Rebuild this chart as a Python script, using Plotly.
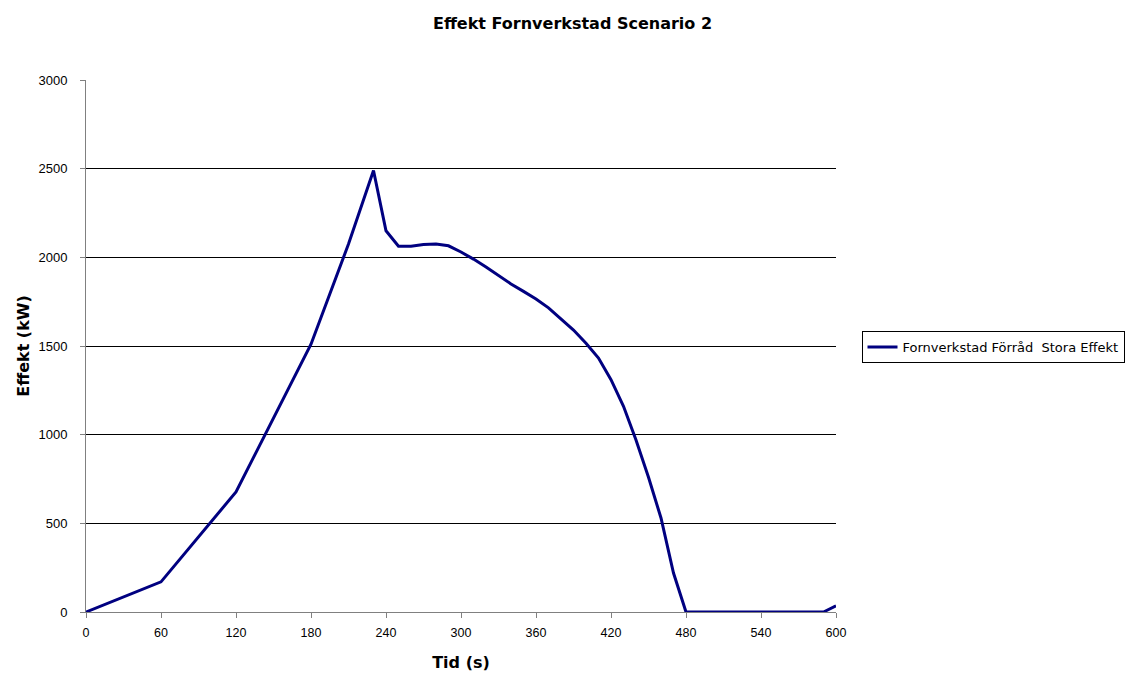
import plotly.graph_objects as go

# Effekt over tid
tid = [0, 60, 120, 180, 210, 230, 240, 250, 260, 270, 280, 290, 300, 310,
       320, 330, 340, 350, 360, 370, 380, 390, 400, 410, 420, 430, 440, 450,
       460, 470, 480, 590, 600]
effekt = [0, 170, 677, 1510, 2075, 2490, 2150, 2063, 2063, 2073, 2075, 2065,
          2030, 1990, 1945, 1895, 1850, 1808, 1765, 1715, 1655, 1590, 1515,
          1432, 1310, 1160, 970, 760, 530, 220, 0, 0, 35]

x_ticks = list(range(0, 601, 60))
y_ticks = list(range(0, 3001, 500))

FONT = "Liberation Sans, Arial, sans-serif"
WIDE = "DejaVu Sans, Liberation Sans, sans-serif"

fig = go.Figure()
fig.add_trace(
    go.Scatter(
        x=tid,
        y=effekt,
        mode="lines",
        name="Fornverkstad Förråd  Stora Effekt",
        line=dict(color="#000080", width=3),
        cliponaxis=False,
    )
)

# page body adds an 8px offset, so the figure is drawn slightly smaller
fig.update_layout(
    width=1129,
    height=669,
    paper_bgcolor="white",
    plot_bgcolor="white",
    font=dict(family=FONT, size=12, color="black"),
    margin=dict(l=78, r=301, t=72, b=65, autoexpand=False),
    title=dict(
        text="<b>Effekt Fornverkstad Scenario 2</b>",
        x=0.5,
        xanchor="center",
        y=0.9765,
        yanchor="middle",
        font=dict(family=WIDE, size=16, color="black"),
    ),
    showlegend=True,
    legend=dict(
        x=1.034,
        xanchor="left",
        y=0.498,
        yanchor="middle",
        bordercolor="black",
        borderwidth=1,
        font=dict(family=WIDE, size=13, color="black"),
        itemwidth=30,
        tracegroupgap=0,
    ),
)

fig.update_xaxes(
    range=[0, 600],
    tickvals=x_ticks,
    ticks="outside",
    ticklen=5,
    tickcolor="#808080",
    showline=True,
    linecolor="#808080",
    linewidth=1,
    showgrid=False,
    zeroline=False,
    ticklabelstandoff=4,
    tickfont=dict(family=FONT, size=12.5),
    title=dict(text="<b>Tid (s)</b>", font=dict(family=WIDE, size=16), standoff=17),
)

fig.update_yaxes(
    range=[0, 3000],
    tickvals=y_ticks,
    ticks="outside",
    ticklen=5,
    tickcolor="#808080",
    showline=True,
    linecolor="#808080",
    linewidth=1,
    showgrid=True,
    gridcolor="black",
    gridwidth=1,
    zeroline=False,
    ticklabelstandoff=10,
    tickfont=dict(family=FONT, size=13),
    title=dict(text="<b>Effekt (kW)</b>", font=dict(family=WIDE, size=16), standoff=4),
)

fig.write_html("out.html")
